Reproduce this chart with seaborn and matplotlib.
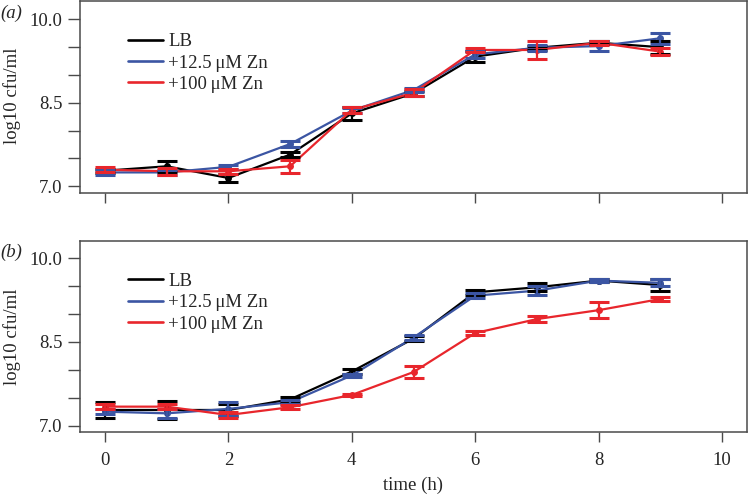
import numpy as np
import pandas as pd
import matplotlib
matplotlib.use("Agg")
import matplotlib.pyplot as plt
import seaborn as sns

# ---------------- data ----------------
time_h = [0, 1, 2, 3, 4, 5, 6, 7, 8, 9]
conditions = ["LB", "+12.5\u2009\u03bcM Zn", "+100\u2009\u03bcM Zn"]

# panel (a)
a_lb = [7.28, 7.36, 7.15, 7.57, 8.31, 8.67, 9.33, 9.49, 9.58, 9.50]
a_lb_err = [0.04, 0.10, 0.07, 0.04, 0.11, 0.04, 0.10, 0.04, 0.03, 0.12]
a_zn12 = [7.25, 7.25, 7.35, 7.76, 8.36, 8.73, 9.37, 9.49, 9.52, 9.66]
a_zn12_err = [0.05, 0.04, 0.04, 0.05, 0.04, 0.04, 0.07, 0.05, 0.09, 0.10]
a_zn100 = [7.30, 7.27, 7.27, 7.36, 8.37, 8.68, 9.45, 9.45, 9.58, 9.42]
a_zn100_err = [0.05, 0.06, 0.05, 0.12, 0.05, 0.06, 0.03, 0.17, 0.04, 0.06]

# panel (b)
b_lb = [7.28, 7.28, 7.28, 7.47, 7.97, 8.56, 9.39, 9.48, 9.60, 9.52]
b_lb_err = [0.14, 0.16, 0.10, 0.04, 0.05, 0.05, 0.05, 0.07, 0.02, 0.10]
b_zn12 = [7.25, 7.22, 7.30, 7.42, 7.90, 8.58, 9.33, 9.42, 9.60, 9.56]
b_zn12_err = [0.05, 0.08, 0.12, 0.04, 0.03, 0.05, 0.05, 0.08, 0.02, 0.06]
b_zn100 = [7.34, 7.34, 7.19, 7.33, 7.55, 7.96, 8.66, 8.91, 9.07, 9.27]
b_zn100_err = [0.05, 0.04, 0.05, 0.04, 0.02, 0.11, 0.03, 0.06, 0.14, 0.03]

y_ticks = [7.0, 7.5, 8.0, 8.5, 9.0, 9.5, 10.0]
y_ticklabels = ["7.0", "", "", "8.5", "", "", "10.0"]
x_ticks = [0, 2, 4, 6, 8, 10]
x_ticklabels = ["0", "2", "4", "6", "8", "10"]
panel_labels = ["(a)", "(b)"]
y_label = "log10 cfu/ml"
x_label = "time (h)"

colors = ["#000000", "#3b55a3", "#e8262c"]

# ---------------- style ----------------
FS = 13.5
sns.set_style("white")
plt.rcParams["font.family"] = ["Liberation Serif", "DejaVu Serif"]
plt.rcParams["font.size"] = FS

fig = plt.figure(figsize=(7.48, 4.94), dpi=100)
W, H = 748, 494
ax_a = fig.add_axes([80 / W, 1 - 193 / H, 667 / W, 192 / H])
ax_b = fig.add_axes([80 / W, 1 - 432.3 / H, 667 / W, 191.3 / H])

panels = [
    (ax_a, [a_lb, a_zn12, a_zn100], [a_lb_err, a_zn12_err, a_zn100_err], (6.88, 10.33)),
    (ax_b, [b_lb, b_zn12, b_zn100], [b_lb_err, b_zn12_err, b_zn100_err], (6.88, 10.31)),
]

spine_col = "#4a4a4a"
for i, (ax, vals, errs, ylim) in enumerate(panels):
    rows = []
    for cond, v in zip(conditions, vals):
        for t, y in zip(time_h, v):
            rows.append({"time": t, "value": y, "condition": cond})
    df = pd.DataFrame(rows)
    sns.lineplot(data=df, x="time", y="value", hue="condition",
                 hue_order=conditions, palette=colors, ax=ax,
                 marker="o", markersize=5, markeredgewidth=0,
                 linewidth=1.6, errorbar=None, legend=False, zorder=3)
    for c, v, e in zip(colors, vals, errs):
        ax.errorbar(time_h, v, yerr=e, fmt="none", ecolor=c, elinewidth=1.6,
                    capsize=7.5, capthick=2.2, zorder=3)
    ax.set_xlim(-0.405, 10.405)
    ax.set_ylim(*ylim)
    ax.set_yticks(y_ticks)
    ax.set_yticklabels(y_ticklabels)
    ax.set_xticks(x_ticks)
    if i == 0:
        ax.set_xticklabels([""] * len(x_ticks))
    else:
        ax.set_xticklabels(x_ticklabels)
    ax.set_xlabel("")
    ax.set_ylabel("")
    ax.tick_params(axis="y", direction="out", length=8.6, width=1.0,
                   color=spine_col, pad=4.0, labelsize=FS, left=True)
    ax.tick_params(axis="x", direction="out", length=7.5, width=1.0,
                   color=spine_col, pad=6.5, labelsize=FS, bottom=True)
    for s in ax.spines.values():
        s.set_visible(True)
        s.set_color(spine_col)
        s.set_linewidth(1.1)
    handles = [plt.Line2D([], [], color=c, lw=1.9) for c in colors]
    ax.legend(handles, conditions, loc="upper left",
              bbox_to_anchor=(48 / 667, 1 - 32 / 192), frameon=False,
              borderaxespad=0, borderpad=0, handlelength=1.87,
              handletextpad=0.27, labelspacing=0.23, fontsize=FS)

fig.text(0.0, 1 - 13 / H, panel_labels[0], ha="left", va="center",
         style="italic", fontsize=FS)
fig.text(0.0, 1 - 252 / H, panel_labels[1], ha="left", va="center",
         style="italic", fontsize=FS)
fig.text(12 / W, 1 - 96 / H, y_label, rotation=90, ha="center", va="center",
         fontsize=FS)
fig.text(12 / W, 1 - 337 / H, y_label, rotation=90, ha="center", va="center",
         fontsize=FS)
fig.text(413 / W, 1 - 485 / H, x_label, ha="center", va="center", fontsize=FS)

fig.savefig("out.png", dpi=100)
